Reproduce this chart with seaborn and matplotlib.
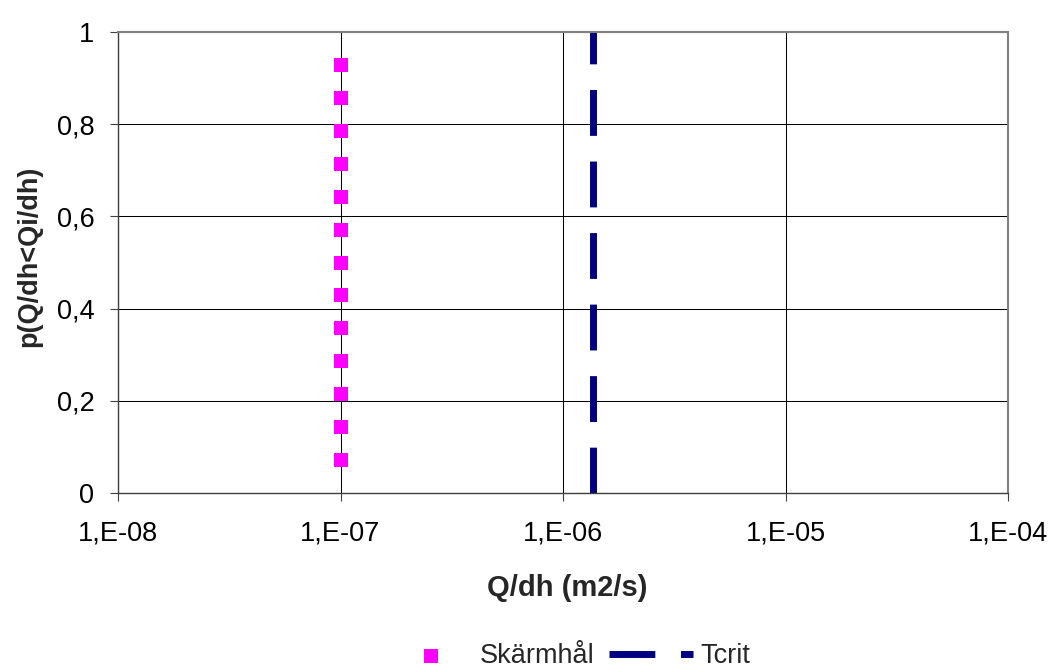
import matplotlib
matplotlib.use("Agg")
import matplotlib.pyplot as plt
import matplotlib.ticker as mticker
import pandas as pd
import seaborn as sb

# data
skarm_q = [1e-7] * 13
skarm_p = [0.071, 0.143, 0.214, 0.286, 0.357, 0.429, 0.5,
           0.571, 0.643, 0.714, 0.786, 0.857, 0.929]
tcrit_q = [1.37e-6, 1.37e-6]
tcrit_p = [0.0, 1.0]

x_ticks = [1e-8, 1e-7, 1e-6, 1e-5, 1e-4]
x_labels = ["1,E-08", "1,E-07", "1,E-06", "1,E-05", "1,E-04"]
y_ticks = [0, 0.2, 0.4, 0.6, 0.8, 1]
y_labels = ["0", "0,2", "0,4", "0,6", "0,8", "1"]

skarm = pd.DataFrame({"q": skarm_q, "p": skarm_p})
tcrit = pd.DataFrame({"q": tcrit_q, "p": tcrit_p})

sb.set_theme(style="ticks")
plt.rcParams["font.family"] = ["Liberation Sans", "DejaVu Sans"]
fs = 19.5

fig = plt.figure(figsize=(10.51, 6.71), dpi=100)
ax = fig.add_axes([118 / 1051, 1 - 493 / 671, 890 / 1051, 461 / 671])

ax.set_xscale("log")
ax.set_axisbelow(True)
ax.grid(True, which="major", color="black", linewidth=0.75)

sb.lineplot(data=tcrit, x="q", y="p", ax=ax, color="#000080", linewidth=5,
            estimator=None, sort=False, label="Tcrit",
            linestyle=(0, (6.6, 3.7)))
sb.scatterplot(data=skarm, x="q", y="p", ax=ax, color="#FF00FF", marker="s",
               s=88, linewidth=0, label="Skärmhål", zorder=3)

ax.set_xlim(1e-8, 1e-4)
ax.set_ylim(0, 1)
ax.xaxis.set_major_locator(mticker.FixedLocator(x_ticks))
ax.xaxis.set_minor_locator(mticker.NullLocator())
ax.set_xticklabels(x_labels)
ax.set_yticks(y_ticks)
ax.set_yticklabels(y_labels)
ax.tick_params(axis="both", direction="out", length=6, width=0.8,
               color="#404040", labelsize=fs, labelcolor="black")
ax.tick_params(axis="x", pad=14)
ax.tick_params(axis="y", pad=11)

for side in ["left", "bottom"]:
    ax.spines[side].set_color("#404040")
    ax.spines[side].set_linewidth(1.0)
for side in ["top", "right"]:
    ax.spines[side].set_visible(True)
    ax.spines[side].set_color("#808080")
    ax.spines[side].set_linewidth(1.5)

ax.set_xlabel("Q/dh (m2/s)", fontsize=21, fontweight="bold")
ax.set_ylabel("p(Q/dh<Qi/dh)", fontsize=fs, fontweight="bold")
ax.xaxis.set_label_coords(0.505, -0.176)
ax.yaxis.set_label_coords(-0.085, 0.513)

h, l = ax.get_legend_handles_labels()
order = [l.index("Skärmhål"), l.index("Tcrit")]
ax.legend([h[i] for i in order], [l[i] for i in order], ncol=2,
          frameon=False, fontsize=fs, loc="center",
          bbox_to_anchor=(569.5 / 1051, 1 - 656 / 671),
          bbox_transform=fig.transFigure,
          handlelength=3.1, handletextpad=0.25, columnspacing=0.55,
          borderpad=0, borderaxespad=0)

fig.savefig("out.png", dpi=100)
